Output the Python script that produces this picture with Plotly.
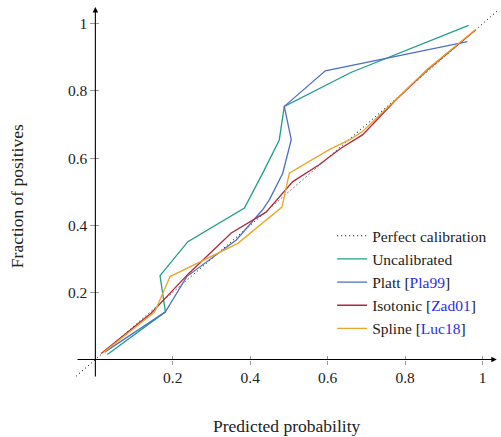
import plotly.graph_objects as go

# ---- data ----
perfect_x = [-0.05, 1.04]
perfect_y = [-0.05, 1.04]

uncal_x = [0.031, 0.181, 0.167, 0.239, 0.385, 0.43, 0.475, 0.488, 0.66, 0.964]
uncal_y = [0.015, 0.142, 0.250, 0.351, 0.451, 0.55, 0.654, 0.754, 0.855, 0.995]

platt_x = [0.024, 0.181, 0.236, 0.364, 0.432, 0.45, 0.484, 0.506, 0.488, 0.594, 0.961]
platt_y = [0.022, 0.142, 0.247, 0.356, 0.446, 0.477, 0.555, 0.655, 0.754, 0.860, 0.947]

iso_x = [0.015, 0.144, 0.24, 0.351, 0.441, 0.51, 0.578, 0.635, 0.69, 0.776, 0.858, 0.983]
iso_y = [0.018, 0.138, 0.255, 0.377, 0.439, 0.530, 0.58, 0.63, 0.669, 0.773, 0.863, 0.982]

spline_x = [0.02, 0.153, 0.193, 0.368, 0.482, 0.501, 0.604, 0.656, 0.69, 0.776, 0.858, 0.983]
spline_y = [0.02, 0.141, 0.247, 0.346, 0.454, 0.555, 0.625, 0.654, 0.679, 0.775, 0.865, 0.984]

tick_vals = [0.2, 0.4, 0.6, 0.8, 1.0]
tick_text = ["0.2", "0.4", "0.6", "0.8", "1"]

names = [
    "Perfect calibration",
    "Uncalibrated",
    'Platt [<span style="color:#2b2bf0">Pla99</span>]',
    'Isotonic [<span style="color:#2b2bf0">Zad01</span>]',
    'Spline [<span style="color:#2b2bf0">Luc18</span>]',
]
colors = ["#000000", "#1f9e89", "#4d6fc4", "#b0283c", "#eba52a"]

XR = [-0.05, 1.04]
YR = [-0.055, 1.05]
FONT = "Liberation Serif, Times New Roman, serif"

fig = go.Figure()
fig.add_trace(go.Scatter(x=perfect_x, y=perfect_y, mode="lines", name=names[0],
                         line=dict(color=colors[0], width=1, dash="1px,3px")))
for xs, ys, nm, c in [(uncal_x, uncal_y, names[1], colors[1]),
                      (platt_x, platt_y, names[2], colors[2]),
                      (iso_x, iso_y, names[3], colors[3]),
                      (spline_x, spline_y, names[4], colors[4])]:
    fig.add_trace(go.Scatter(x=xs, y=ys, mode="lines", name=nm,
                             line=dict(color=c, width=1.3)))

# dummy trace to activate secondary tick axes (inner half of crossing ticks)
fig.add_trace(go.Scatter(x=[], y=[], xaxis="x2", yaxis="y2", showlegend=False))

xpos = (0 - YR[0]) / (YR[1] - YR[0])
ypos = (0 - XR[0]) / (XR[1] - XR[0])

axis_common = dict(showgrid=False, zeroline=False, showline=False, automargin=False,
                   tickvals=tick_vals, ticktext=tick_text,
                   tickcolor="#999999", tickwidth=1,
                   tickfont=dict(family=FONT, size=15.5, color="#222222"))

fig.update_layout(
    width=501, height=437,
    margin=dict(l=76, r=3, t=7, b=59),
    paper_bgcolor="white", plot_bgcolor="white",
    font=dict(family=FONT, size=15, color="#222222"),
    xaxis=dict(range=XR, anchor="free", position=xpos, ticks="outside", ticklen=4,
               **axis_common),
    yaxis=dict(range=YR, anchor="free", position=ypos, ticks="outside", ticklen=5,
               **axis_common),
    xaxis2=dict(range=XR, overlaying="x", anchor="free", position=xpos, ticks="inside",
                ticklen=4, showticklabels=False, showgrid=False, zeroline=False,
                tickvals=tick_vals, tickcolor="#999999"),
    yaxis2=dict(range=YR, overlaying="y", anchor="free", position=ypos, ticks="inside",
                ticklen=3, showticklabels=False, showgrid=False, zeroline=False,
                tickvals=tick_vals, tickcolor="#999999"),
    legend=dict(x=0.607, y=0.428, xanchor="left", yanchor="top",
                bgcolor="rgba(0,0,0,0)", borderwidth=0,
                font=dict(family=FONT, size=15.5, color="#222222")),
    showlegend=True,
)

# axis lines with arrowheads
fig.add_annotation(x=0, y=YR[1], ax=0, ay=YR[0], xref="x", yref="y", axref="x", ayref="y",
                   text="", showarrow=True, arrowhead=2, arrowsize=1, arrowwidth=1.1,
                   arrowcolor="black")
fig.add_annotation(x=XR[1] - 0.003, y=0, ax=XR[0], ay=0, xref="x", yref="y", axref="x", ayref="y",
                   text="", showarrow=True, arrowhead=2, arrowsize=1, arrowwidth=1.1,
                   arrowcolor="black")

# axis titles
fig.add_annotation(text="Predicted probability", xref="paper", yref="paper",
                   x=0.5, y=-0.13, xanchor="center", yanchor="middle", showarrow=False,
                   font=dict(family=FONT, size=17.5, color="#222222"))
fig.add_annotation(text="Fraction of positives", xref="paper", yref="paper",
                   x=-0.14, y=0.49, xanchor="center", yanchor="middle", showarrow=False,
                   textangle=-90, font=dict(family=FONT, size=17.5, color="#222222"))

fig.write_html("out.html", config={"displayModeBar": False},
               post_script="document.body.style.margin='0';")
